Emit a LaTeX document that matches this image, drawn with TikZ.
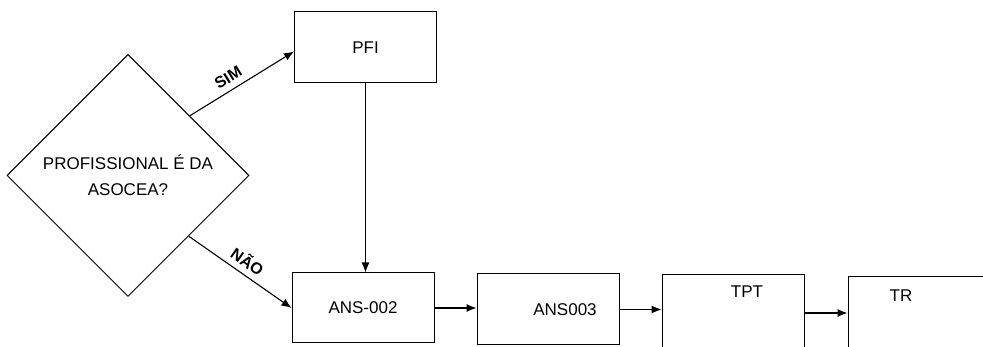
\documentclass[tikz,border=0pt]{standalone}
\usepackage{fontspec}
\setmainfont{Liberation Sans}
\usetikzlibrary{shapes.geometric,arrows.meta}

\begin{document}
\begin{tikzpicture}[line width=1pt,font=\fontsize{17}{20}\selectfont,
  caixa/.style={draw,rectangle,minimum width=142pt},
  seta/.style={line width=1.1pt,-{Latex[length=10pt,width=8pt]}},
  rotulo/.style={sloped,above,inner sep=6pt,font=\fontsize{16}{18}\selectfont\bfseries}]
\useasboundingbox (0pt,0pt) rectangle (983pt,347pt);
\node[draw,diamond,aspect=1,minimum width=242pt,minimum height=242pt,inner sep=0pt,align=center,
  font=\fontsize{17}{26}\selectfont] (dec) at (128pt,171.5pt) {PROFISSIONAL É DA\\ASOCEA?};
\node[caixa,minimum height=71pt] (pfi) at (365.5pt,299.5pt) {PFI};
\node[caixa,minimum height=70pt] (ans2) at (363pt,39pt) {ANS-002};
\node[caixa,minimum height=71pt,label={[xshift=17pt]center:ANS003}] (ans3) at (548pt,37.5pt) {};
\node[caixa,minimum height=76pt,label={[xshift=14pt,yshift=21pt]center:TPT}] (tpt) at (733pt,34pt) {};
\node[caixa,minimum height=72pt,label={[xshift=-18pt,yshift=17pt]center:TR}] (tr) at (919pt,34pt) {};
\draw[seta] (dec.44) -- ([yshift=-4pt]pfi.west) node[rotulo,pos=0.43] {SIM};
\draw[seta] (dec.-45) -- (ans2.west) node[rotulo,midway] {NÃO};
\draw[seta] (pfi.south) -- (pfi.south |- ans2.north);
\draw[seta] (ans2.east) -- (ans2.east -| ans3.west);
\draw[seta] (ans3.east) -- (ans3.east -| tpt.west);
\draw[seta] (tpt.east) -- (tpt.east -| tr.west);
\end{tikzpicture}
\end{document}
